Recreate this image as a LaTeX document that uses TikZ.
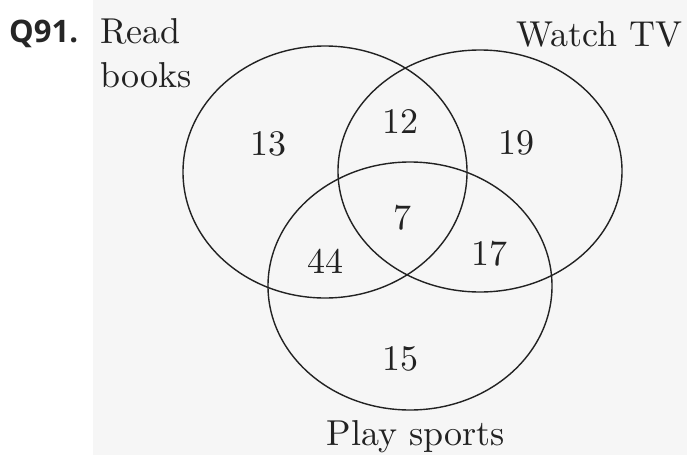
\documentclass[tikz,border=0pt]{standalone}
\usepackage{fontspec}
\newfontfamily\qfont{Open Sans}
\newfontfamily\lmten{lmroman10-regular.otf}
\definecolor{scan}{HTML}{F6F6F6}
\definecolor{ink}{HTML}{222222}
\begin{document}
\begin{tikzpicture}[x=1pt,y=-1pt,
  setline/.style={draw=ink,line width=1.4pt},
  num/.style={inner sep=0pt,text=ink,font=\lmten\fontsize{36}{40}\selectfont},
  lbl/.style={inner sep=0pt,text=ink,font=\lmten\fontsize{36}{40}\selectfont}]
\useasboundingbox (0,0) rectangle (687,455);
\fill[scan] (93,0) rectangle (687,455);
\node[inner sep=0pt,anchor=base west,font=\qfont\bfseries\fontsize{31}{34}\selectfont,text=black!85] (q) at (9,42) {Q91.};
% sets
\draw[setline] (325,172) ellipse [x radius=142, y radius=126];
\draw[setline] (480,171) ellipse [x radius=142, y radius=121];
\draw[setline] (410,286) ellipse [x radius=142, y radius=124];
% labels
\node[lbl,anchor=base west] (rb1) at (100,43) {Read};
\node[lbl,anchor=base west] (rb2) at (100,87) {books};
\node[lbl,anchor=base east] (tv) at (683,46) {Watch TV};
\node[lbl,anchor=base] (ps) at (416,445) {Play sports};
% numbers
\node[num] (n13) at (268,144) {13};
\node[num] (n12) at (400,122) {12};
\node[num] (n19) at (516,143) {19};
\node[num] (n7) at (402,218) {7};
\node[num] (n44) at (325,261) {44};
\node[num] (n17) at (489,254) {17};
\node[num] (n15) at (400,359) {15};
\end{tikzpicture}
\end{document}
